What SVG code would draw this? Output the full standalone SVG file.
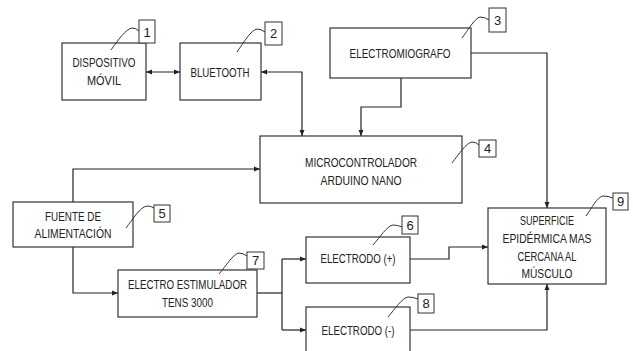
<svg xmlns="http://www.w3.org/2000/svg" width="633" height="351" viewBox="0 0 633 351">
<style>
.box{fill:#fff;stroke:#333;stroke-width:1.2}
.lbl{fill:#fff;stroke:#333;stroke-width:1}
.t{font-family:"Liberation Sans",Arial,sans-serif;font-size:13px;fill:#222;text-anchor:middle}
.n{font-family:"Liberation Sans",Arial,sans-serif;font-size:13px;fill:#222;text-anchor:middle}
.c{fill:none;stroke:#333;stroke-width:1}
.w{fill:none;stroke:#222;stroke-width:1.2}
</style>
<defs>
<marker id="ah" markerWidth="6" markerHeight="6" refX="6" refY="3" orient="auto-start-reverse" markerUnits="userSpaceOnUse">
<path d="M0,0.5 L6,3 L0,5.5 z" fill="#222"/>
</marker>
</defs>
<rect width="633" height="351" fill="#fff"/>
<g id="connectors">
<path class="w" d="M146,72 L180,72" marker-start="url(#ah)" marker-end="url(#ah)"/>
<path class="w" d="M261,72 L302,72 L302,136" marker-start="url(#ah)" marker-end="url(#ah)"/>
<path class="w" d="M401,78 L401,107 L361,107 L361,136" marker-end="url(#ah)"/>
<path class="w" d="M471,53 L547,53 L547,208" marker-end="url(#ah)"/>
<path class="w" d="M73,202 L73,169 L260,169" marker-end="url(#ah)"/>
<path class="w" d="M73,247 L73,293 L118,293" marker-end="url(#ah)"/>
<path class="w" d="M257,293 L282,293"/>
<path class="w" d="M282,259 L282,330"/>
<path class="w" d="M282,259 L306,259" marker-end="url(#ah)"/>
<path class="w" d="M282,330 L306,330" marker-end="url(#ah)"/>
<path class="w" d="M410,259 L449,259 L449,247 L488,247" marker-end="url(#ah)"/>
<path class="w" d="M410,330 L547,330 L547,284" marker-end="url(#ah)"/>
</g>
<g id="n1">
<rect class="box" x="62" y="43" width="84" height="57"/>
<text class="t" x="104" y="67" textLength="63" lengthAdjust="spacingAndGlyphs">DISPOSITIVO</text>
<text class="t" x="104" y="85" textLength="34" lengthAdjust="spacingAndGlyphs">MÓVIL</text>
<path class="c" d="M111,50 C118,40 126,29 132,28 Q136,28 139,31"/>
<rect class="lbl" x="139" y="20" width="16" height="23"/>
<text class="n" x="147" y="37">1</text>
</g>
<g id="n2">
<rect class="box" x="180" y="43" width="81" height="57"/>
<text class="t" x="220" y="77" textLength="59" lengthAdjust="spacingAndGlyphs">BLUETOOTH</text>
<path class="c" d="M237,52 C244,42 251,30 257,29 Q261,29 265,32"/>
<rect class="lbl" x="265" y="22" width="17" height="23"/>
<text class="n" x="273.5" y="38">2</text>
</g>
<g id="n3">
<rect class="box" x="330" y="28" width="141" height="50"/>
<text class="t" x="400" y="58" textLength="101" lengthAdjust="spacingAndGlyphs">ELECTROMIOGRAFO</text>
<path class="c" d="M462,38 C468,30 475,18 480,17 Q485,17 489,20"/>
<rect class="lbl" x="489" y="8" width="17" height="24"/>
<text class="n" x="497.5" y="25">3</text>
</g>
<g id="n4">
<rect class="box" x="260" y="136" width="202" height="67"/>
<text class="t" x="361" y="167" textLength="112" lengthAdjust="spacingAndGlyphs">MICROCONTROLADOR</text>
<text class="t" x="361" y="185" textLength="81" lengthAdjust="spacingAndGlyphs">ARDUINO NANO</text>
<path class="c" d="M452,163 C459,154 466,143 472,142 Q476,142 479,145"/>
<rect class="lbl" x="479" y="140" width="17" height="17"/>
<text class="n" x="487.5" y="153">4</text>
</g>
<g id="n5">
<rect class="box" x="13" y="202" width="120" height="45"/>
<text class="t" x="73" y="221" textLength="56" lengthAdjust="spacingAndGlyphs">FUENTE DE</text>
<text class="t" x="73" y="238" textLength="77" lengthAdjust="spacingAndGlyphs">ALIMENTACIÓN</text>
<path class="c" d="M126,228 C133,219 140,207 147,206 Q151,206 154,208"/>
<rect class="lbl" x="154" y="205" width="16" height="17"/>
<text class="n" x="162" y="218">5</text>
</g>
<g id="n6">
<rect class="box" x="306" y="237" width="104" height="46"/>
<text class="t" x="358" y="263" textLength="75" lengthAdjust="spacingAndGlyphs">ELECTRODO (+)</text>
<path class="c" d="M373,245 C380,237 387,226 393,225 Q398,225 402,227"/>
<rect class="lbl" x="402" y="216" width="16" height="18"/>
<text class="n" x="410" y="230">6</text>
</g>
<g id="n7">
<rect class="box" x="118" y="270" width="139" height="47"/>
<text class="t" x="187.5" y="289" textLength="119" lengthAdjust="spacingAndGlyphs">ELECTRO ESTIMULADOR</text>
<text class="t" x="187.5" y="307" textLength="51" lengthAdjust="spacingAndGlyphs">TENS 3000</text>
<path class="c" d="M219,274 C226,266 233,254 239,253 Q243,253 247,256"/>
<rect class="lbl" x="247" y="252" width="17" height="17"/>
<text class="n" x="255.5" y="265">7</text>
</g>
<g id="n8">
<rect class="box" x="306" y="307" width="104" height="50"/>
<text class="t" x="358" y="335" textLength="73" lengthAdjust="spacingAndGlyphs">ELECTRODO (-)</text>
<path class="c" d="M388,317 C395,309 402,298 408,297 Q413,297 418,299"/>
<rect class="lbl" x="418" y="294" width="16" height="19"/>
<text class="n" x="426" y="308">8</text>
</g>
<g id="n9">
<rect class="box" x="488" y="208" width="118" height="76"/>
<text class="t" x="547" y="225" textLength="54" lengthAdjust="spacingAndGlyphs">SUPERFICIE</text>
<text class="t" x="547" y="243" textLength="89" lengthAdjust="spacingAndGlyphs">EPIDÉRMICA MAS</text>
<text class="t" x="547" y="261" textLength="59" lengthAdjust="spacingAndGlyphs">CERCANA AL</text>
<text class="t" x="547" y="278" textLength="51" lengthAdjust="spacingAndGlyphs">MÚSCULO</text>
<path class="c" d="M586,216 C592,208 597,197 603,196 Q608,196 613,198"/>
<rect class="lbl" x="613" y="193" width="15" height="17"/>
<text class="n" x="620.5" y="206">9</text>
</g>
</svg>
